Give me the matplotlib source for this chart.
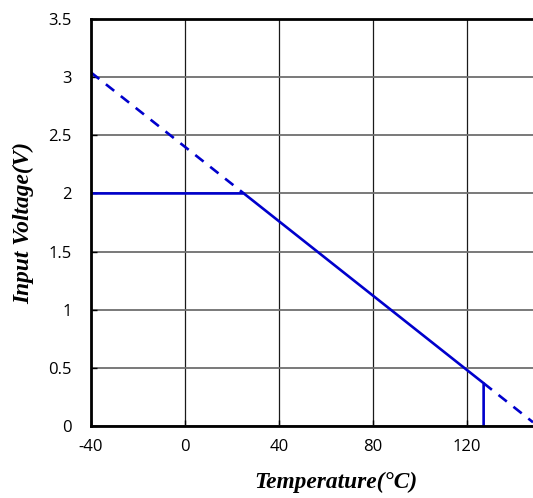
import matplotlib.pyplot as plt

plt.rcParams['axes.unicode_minus'] = False

# 점선: 이론 직선 (실선과 겹치지 않는 구간만)
ideal_t = [-40, 25, float('nan'), 127, 148]
ideal_v = [3.04, 2.0, float('nan'), 0.368, 0.032]

# 실선: 실제 동작 (2V 제한 후 하강, 127도에서 차단)
limit_t = [-40, 25, 127, 127]
limit_v = [2.0, 2.0, 0.368, 0.0]

x_ticks = [-40, 0, 40, 80, 120]
y_ticks = [0, 0.5, 1, 1.5, 2, 2.5, 3, 3.5]
y_labels = ['0', '0.5', '1', '1.5', '2', '2.5', '3', '3.5']

blue = '#0000CC'

fig = plt.figure(figsize=(5.33, 4.98), dpi=100)
ax = fig.add_axes([91 / 533, 1 - 426 / 498, 442 / 533, 407 / 498])

ax.plot(ideal_t, ideal_v, color=blue, lw=1.9, linestyle=(0, (4, 3.2)))
ax.plot(limit_t, limit_v, color=blue, lw=1.9)

ax.set_xlim(-40, 148)
ax.set_ylim(0, 3.5)
ax.set_xticks(x_ticks)
ax.set_yticks(y_ticks)
ax.set_yticklabels(y_labels)

ax.grid(True, axis='x', color='#1a1a1a', lw=0.9)
ax.grid(True, axis='y', color='#6e6e6e', lw=1.3)
ax.set_axisbelow(True)

for side in ['left', 'bottom', 'top']:
    ax.spines[side].set_linewidth(2)
    ax.spines[side].set_color('black')
ax.spines['right'].set_visible(False)

ax.tick_params(direction='in', length=4, width=1, colors='black')
ax.tick_params(axis='y', pad=14)
ax.tick_params(axis='x', pad=9)
for lab in ax.get_xticklabels() + ax.get_yticklabels():
    lab.set_fontfamily('Open Sans')
    lab.set_fontsize(12)

ax.set_xlabel('Temperature(°C)', family='Liberation Serif', weight='bold',
              style='italic', fontsize=16.8)
ax.xaxis.set_label_coords((336 - 91) / 442, -0.113)
ax.set_ylabel('Input Voltage(V)', family='Liberation Serif', weight='bold',
              style='italic', fontsize=16.8)
ax.yaxis.set_label_coords(-(91 - 34) / 442, 0.5)

fig.savefig('out.png', dpi=100)
